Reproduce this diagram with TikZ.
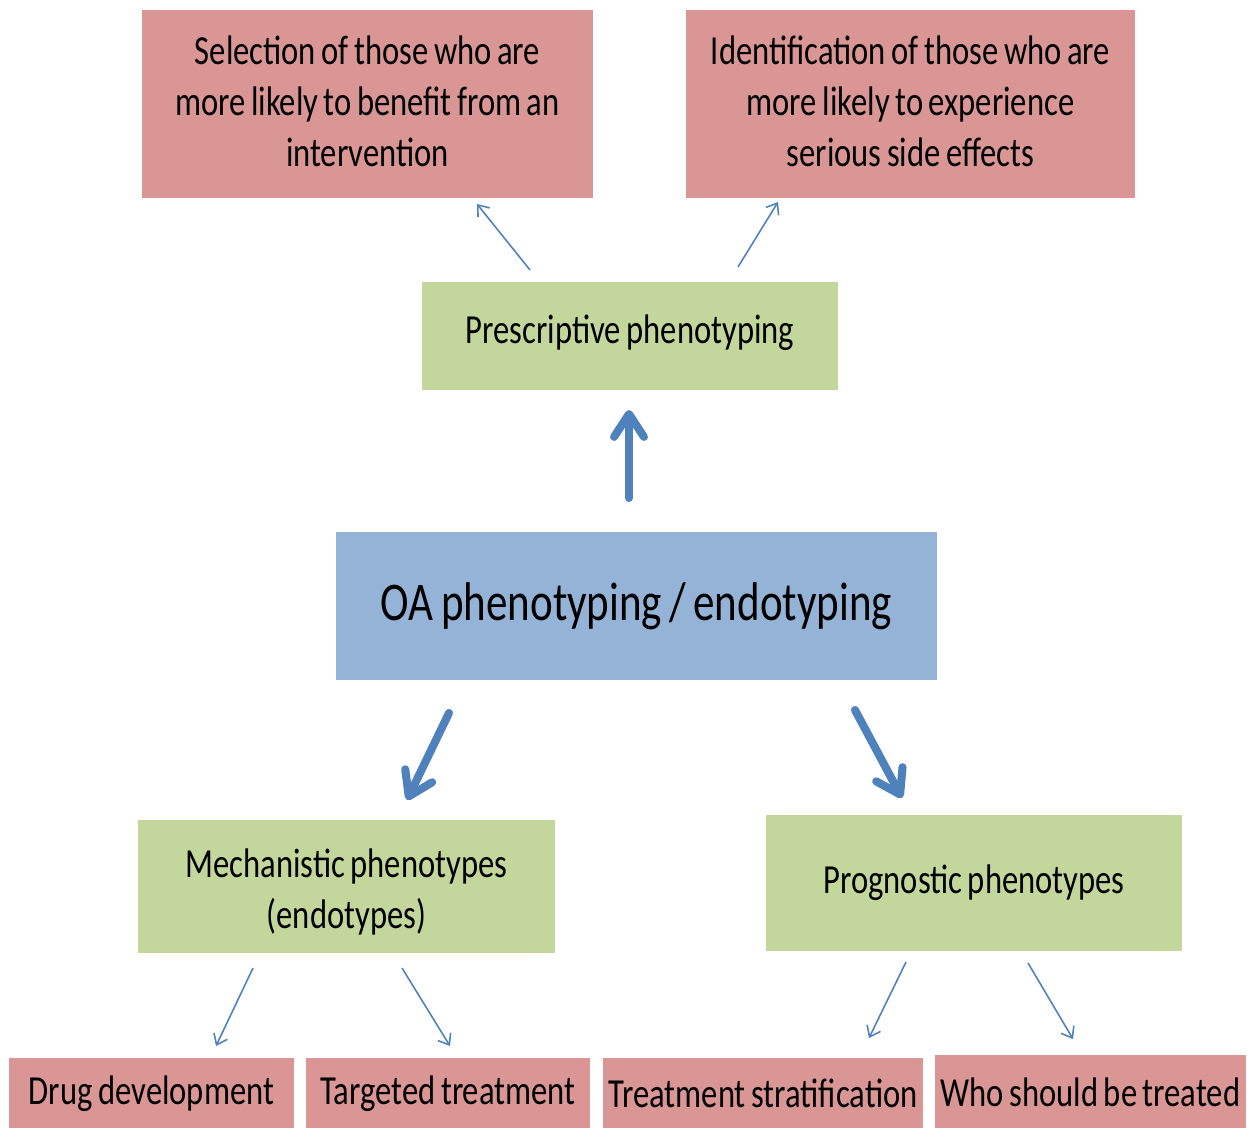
\documentclass[tikz,border=0pt]{standalone}
\usepackage{fontspec}
\setmainfont{Carlito}[FakeStretch=0.79,WordSpace=0.75]
\usetikzlibrary{arrows.meta}
\definecolor{redbox}{RGB}{217,150,148}
\definecolor{greenbox}{RGB}{195,214,155}
\definecolor{bluebox}{RGB}{149,179,215}
\definecolor{arrowblue}{RGB}{79,129,189}
\tikzset{
  box/.style={rectangle, inner sep=0pt, align=center, text=black, font=\fontsize{23.5}{29}\selectfont},
  redb/.style={box, fill=redbox},
  greenb/.style={box, fill=greenbox},
  blueb/.style={box, fill=bluebox, font=\fontsize{31}{38}\selectfont},
  lbl/.style={inner sep=0pt, align=center, text=black, font=\fontsize{23.5}{29}\selectfont},
  thinarrow/.style={draw=arrowblue, line width=0.9pt, -{Straight Barb[length=5.5pt,width=8.5pt,line width=0.9pt]}},
  thickarrow/.style={draw=arrowblue, line width=4.6pt, line cap=round, -{Straight Barb[length=13pt,width=17pt,line width=4.6pt,round]}}
}
\begin{document}
\begin{tikzpicture}[x=0.02cm,y=-0.02cm]
\useasboundingbox (0,0) rectangle (1258,1128);
\clip (0,0) rectangle (1258,1128);
% boxes
\node[redb, minimum width=451*0.02cm, minimum height=188*0.02cm] (sel) at (367.5,104) {};
\node[lbl] (selt) at (367.5,101) {Selection of those who are\\more likely to benefit from an\\intervention};
\node[redb, minimum width=449*0.02cm, minimum height=188*0.02cm] (ident) at (910.5,104) {};
\node[lbl] (identt) at (910.5,101) {Identification of those who are\\more likely to experience\\serious side effects};
\node[greenb, minimum width=416*0.02cm, minimum height=108*0.02cm] (presc) at (630,336) {\raisebox{8pt}{Prescriptive phenotyping}};
\node[blueb, minimum width=601*0.02cm, minimum height=148*0.02cm] (oa) at (636.5,606) {OA phenotyping / endotyping};
\node[greenb, minimum width=417*0.02cm, minimum height=133*0.02cm] (mech) at (346.5,886.5) {};
\node[lbl] (mecht) at (346.5,892) {Mechanistic phenotypes\\(endotypes)};
\node[greenb, minimum width=416*0.02cm, minimum height=136*0.02cm] (prog) at (974,883) {Prognostic phenotypes};
\node[redb, minimum width=285*0.02cm, minimum height=72*0.02cm] (drug) at (151.5,1094) {Drug development};
\node[redb, minimum width=284*0.02cm, minimum height=72*0.02cm] (targ) at (448,1094) {Targeted treatment};
\node[redb, minimum width=320*0.02cm, minimum height=72*0.02cm] (strat) at (763,1094) {\raisebox{1pt}{Treatment stratification}};
\node[redb, minimum width=311*0.02cm, minimum height=75*0.02cm] (who) at (1090.5,1092.5) {Who should be treated};
% connector end points
\coordinate (pA) at (530,270);
\coordinate (sA) at (477,204);
\coordinate (pB) at (738,267);
\coordinate (iB) at (778,202);
\coordinate (oU) at (629,498);
\coordinate (pU) at (629,410);
\coordinate (oL) at (449,713);
\coordinate (mL) at (407,800);
\coordinate (oR) at (855,710);
\coordinate (gR) at (902,798);
\coordinate (m1) at (253,968);
\coordinate (d1) at (216,1046);
\coordinate (m2) at (402,968);
\coordinate (t2) at (450,1046);
\coordinate (g1) at (906,962);
\coordinate (s1) at (869,1038);
\coordinate (g2) at (1028,963);
\coordinate (w2) at (1073,1039);
% connectors
\draw[thinarrow] (pA) -- (sA);
\draw[thinarrow] (pB) -- (iB);
\draw[thickarrow] (oU) -- (pU);
\draw[thickarrow] (oL) -- (mL);
\draw[thickarrow] (oR) -- (gR);
\draw[thinarrow] (m1) -- (d1);
\draw[thinarrow] (m2) -- (t2);
\draw[thinarrow] (g1) -- (s1);
\draw[thinarrow] (g2) -- (w2);
\end{tikzpicture}
\end{document}
